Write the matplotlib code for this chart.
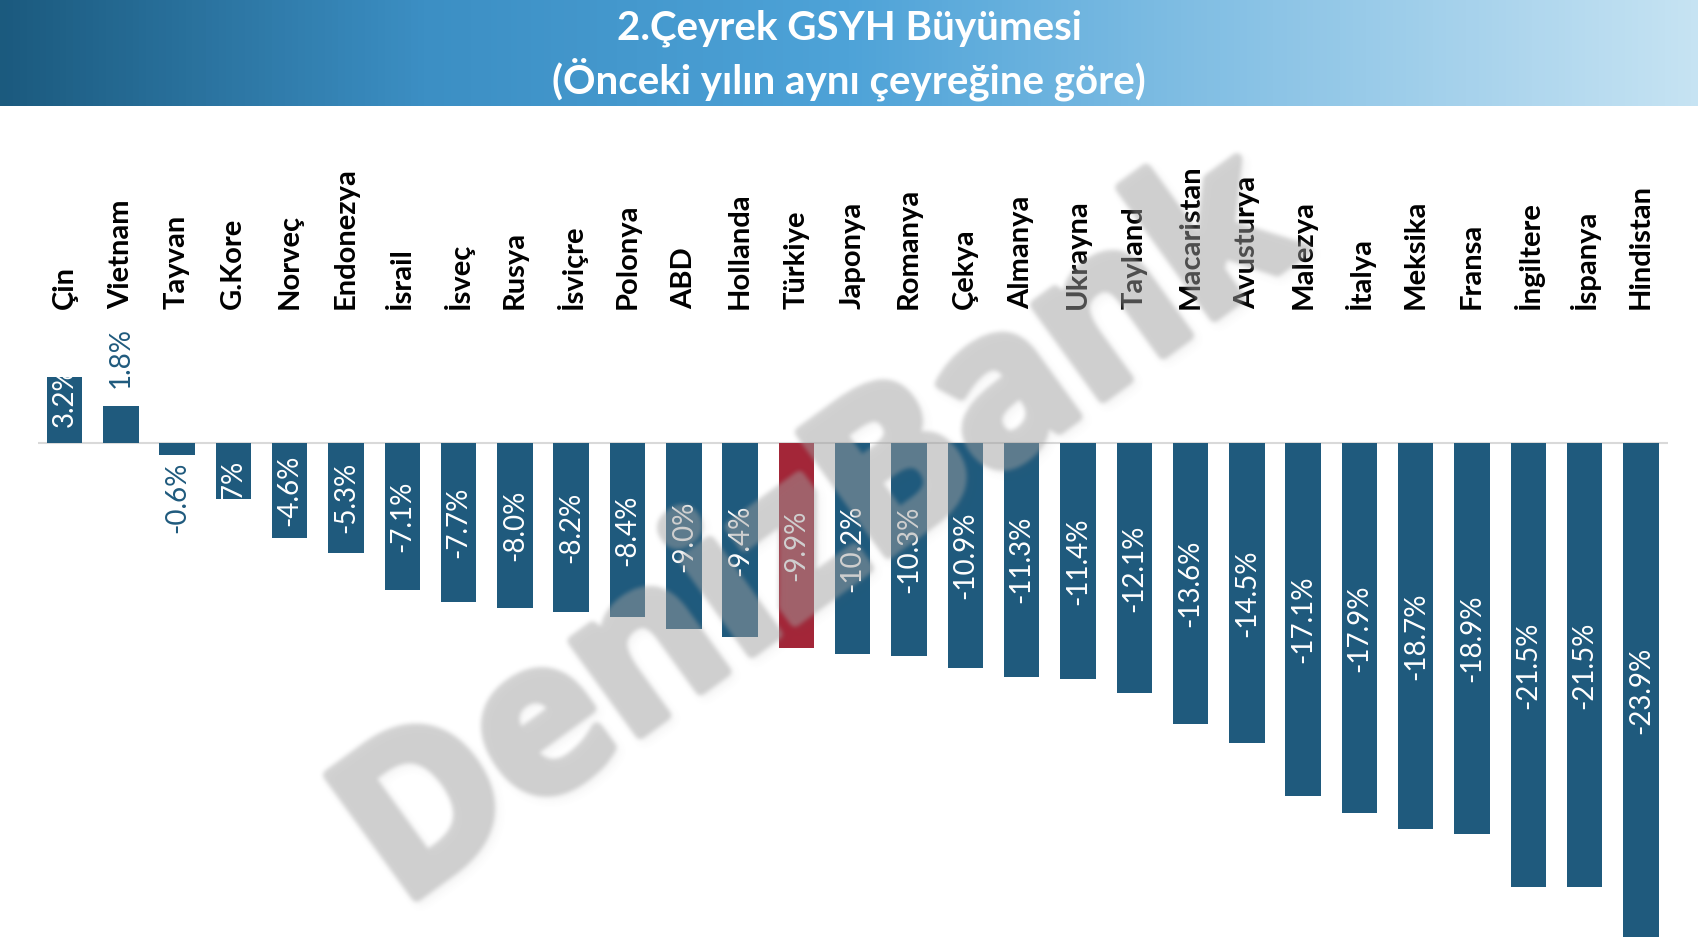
import numpy as np
import matplotlib

matplotlib.use("Agg")
import matplotlib.pyplot as plt
from matplotlib.colors import LinearSegmentedColormap
import matplotlib.patheffects as pe

plt.rcParams["font.family"] = ["Lato", "DejaVu Sans"]

countries = ["Çin", "Vietnam", "Tayvan", "G.Kore", "Norveç", "Endonezya", "İsrail",
             "İsveç", "Rusya", "İsviçre", "Polonya", "ABD", "Hollanda", "Türkiye",
             "Japonya", "Romanya", "Çekya", "Almanya", "Ukrayna", "Tayland",
             "Macaristan", "Avusturya", "Malezya", "İtalya", "Meksika", "Fransa",
             "İngiltere", "İspanya", "Hindistan"]
growth = [3.2, 1.8, -0.6, -2.7, -4.6, -5.3, -7.1, -7.7, -8.0, -8.2, -8.4, -9.0, -9.4,
          -9.9, -10.2, -10.3, -10.9, -11.3, -11.4, -12.1, -13.6, -14.5, -17.1, -17.9,
          -18.7, -18.9, -21.5, -21.5, -23.9]
highlight = "Türkiye"

BLUE = "#1f5a7d"
RED = "#a32638"
W, H = 1698, 944


def box_blur(a, r):
    # separable box blur, applied twice for a softer edge
    for _ in range(2):
        for axis in (0, 1):
            c = np.cumsum(np.pad(a, [(r + 1, r) if i == axis else (0, 0) for i in range(2)],
                                 mode="edge"), axis=axis)
            if axis == 0:
                a = (c[2 * r + 1:] - c[:-2 * r - 1]) / (2 * r + 1)
            else:
                a = (c[:, 2 * r + 1:] - c[:, :-2 * r - 1]) / (2 * r + 1)
    return a


def watermark_mask():
    f2 = plt.figure(figsize=(W / 100, H / 100), dpi=100)
    f2.text(0.484, 0.434, "DenizBank", rotation=36, fontsize=151, weight="bold",
            family="Open Sans", color="black", ha="center", va="center",
            path_effects=[pe.withStroke(linewidth=8, foreground="black")])
    f2.canvas.draw()
    buf = np.asarray(f2.canvas.buffer_rgba())[..., 0].astype(float)
    plt.close(f2)
    return 1 - buf / 255.0


fig = plt.figure(figsize=(W / 100, H / 100), dpi=100)

# header banner with gradient
bax = fig.add_axes([0, 1 - 106 / H, 1, 106 / H])
cmap = LinearSegmentedColormap.from_list("hdr", ["#1b5a7e", "#3c8fc4", "#4ea3d8", "#8cc4e6", "#c6e3f3"])
bax.imshow(np.linspace(0, 1, 512).reshape(1, -1), aspect="auto", cmap=cmap, extent=[0, 1, 0, 1])
bax.set_axis_off()
bax.text(0.5, 0.73, "2.Çeyrek GSYH Büyümesi", color="white", fontsize=29, weight="bold",
         ha="center", va="center", transform=bax.transAxes)
bax.text(0.5, 0.25, "(Önceki yılın aynı çeyreğine göre)", color="white", fontsize=29,
         weight="bold", ha="center", va="center", transform=bax.transAxes)

ax = fig.add_axes([38 / W, 0.001, 1630 / W, 0.858])
x = np.arange(len(countries))
colors = [RED if c == highlight else BLUE for c in countries]
bars = ax.bar(x, growth, width=0.63, color=colors, zorder=2)
ax.axhline(0, color="#d9d9d9", lw=1.5, zorder=1)
ax.set_xlim(-0.47, len(countries) - 0.52)
ax.set_ylim(-24.2, 15)
ax.set_axis_off()

for i, (c, v, b) in enumerate(zip(countries, growth, bars)):
    ax.text(i, 6.5, c, rotation=90, ha="center", va="bottom", fontsize=21,
            weight="bold", color="black")
    lab = f"{v:.1f}%"
    if c == "Vietnam":
        ax.text(i, v + 0.85, lab, rotation=90, ha="center", va="bottom",
                fontsize=20, color=BLUE)
    elif c == "Tayvan":
        ax.text(i, v - 0.3, lab, rotation=90, ha="center", va="top",
                fontsize=20, color=BLUE)
    elif c == "Çin":
        t = ax.text(i, 0.8, lab, rotation=90, ha="center", va="bottom",
                    fontsize=20, color="white")
        t.set_clip_path(b)
    elif c == "G.Kore":
        t = ax.text(i, -0.8, lab, rotation=90, ha="center", va="top",
                    fontsize=20, color="white")
        t.set_clip_path(b)
    else:
        ax.text(i, v / 2, lab, rotation=90, ha="center", va="center",
                fontsize=20, color="white", zorder=3)

# watermark: light gray text with a faint soft shadow
mask = box_blur(watermark_mask(), 2)
shadow = np.roll(box_blur(mask, 4), (4, 4), axis=(0, 1))
a_main = mask * 0.46
a_shad = shadow * 0.07
a_tot = a_main + a_shad * (1 - a_main)
rgb_main = np.array([0.64, 0.64, 0.64])
rgb_shad = np.array([0.4, 0.4, 0.4])
rgb = (rgb_main * a_main[..., None] + rgb_shad * (a_shad * (1 - a_main))[..., None]) \
    / np.maximum(a_tot, 1e-6)[..., None]
img = np.dstack([rgb, a_tot])
fig.figimage(img, xo=0, yo=0, origin="upper", zorder=10)

fig.savefig("out.png", dpi=100)
